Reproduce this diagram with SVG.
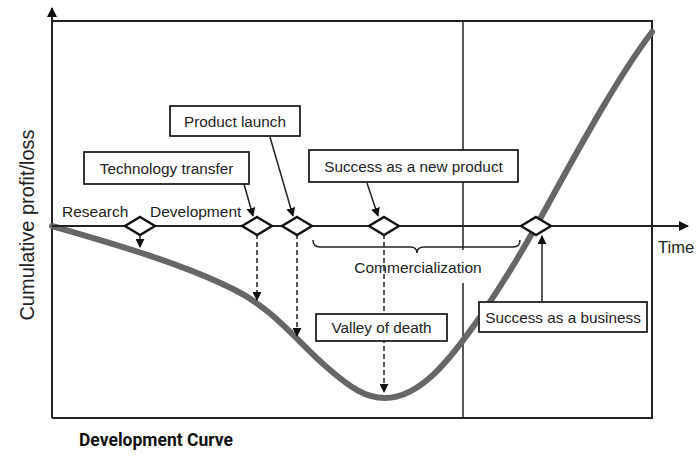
<svg xmlns="http://www.w3.org/2000/svg" width="698" height="466" viewBox="0 0 698 466">
<style>
.ln{stroke:#222;stroke-width:2;fill:none}
.thin{stroke:#222;stroke-width:1.5;fill:none}
.dash{stroke:#222;stroke-width:1.5;fill:none;stroke-dasharray:5,3}
.box{fill:#fff;stroke:#222;stroke-width:1.8}
.dia{fill:#fff;stroke:#111;stroke-width:2.4}
.t{font-family:"Liberation Sans",Arial,sans-serif;font-size:15.5px;fill:#222}
.bt{font-family:"Liberation Sans",Arial,sans-serif;font-size:15.3px;fill:#222;text-anchor:middle}
</style>
<defs>
<marker id="ah" viewBox="0 0 10 10" refX="9" refY="5" markerWidth="5" markerHeight="5" orient="auto" markerUnits="strokeWidth">
<path d="M0,0 L10,5 L0,10 z" fill="#111"/>
</marker>
<marker id="ah2" viewBox="0 0 10 10" refX="9" refY="5" markerWidth="6" markerHeight="6" orient="auto" markerUnits="strokeWidth">
<path d="M0,0 L10,5 L0,10 z" fill="#111"/>
</marker>
</defs>
<rect width="698" height="466" fill="#fff"/>
<g id="frame">
<path class="ln" d="M52,21 H652 V418 H52"/>
<path class="ln" d="M52,418 V8" marker-end="url(#ah)"/>
<path class="thin" d="M463,21 V250 M463,283 V418"/>
</g>
<g id="curve">
<path d="M52,226 C100,240 180,262 235,290 C275,310 300,345 330,370 C350,387 365,398 385,398 C420,398 450,360 480,317 C505,280 520,255 535,228 C570,165 615,80 652,32" fill="none" stroke="#666" stroke-width="6" stroke-linecap="round"/>
</g>
<g id="time-axis">
<path class="ln" d="M52,226 H688" marker-end="url(#ah)"/>
<text class="t" x="658" y="253" style="font-size:16.5px">Time</text>
</g>
<g id="connectors">
<path class="dash" d="M140,234 V247" marker-end="url(#ah2)"/>
<path class="dash" d="M257,234 V300" marker-end="url(#ah2)"/>
<path class="dash" d="M297,234 V336" marker-end="url(#ah2)"/>
<path class="dash" d="M384,234 V392" marker-end="url(#ah2)"/>
<path class="thin" d="M244,184 L253,216" marker-end="url(#ah2)"/>
<path class="thin" d="M270,137 L293,216" marker-end="url(#ah2)"/>
<path class="thin" d="M367,183 L378,216" marker-end="url(#ah2)"/>
<path class="thin" d="M542,301 V236" marker-end="url(#ah2)"/>
</g>
<g id="diamonds">
<path class="dia" d="M140,217 L155,226 L140,235 L125,226 z"/>
<path class="dia" d="M257,217 L272,226 L257,235 L242,226 z"/>
<path class="dia" d="M297,217 L312,226 L297,235 L282,226 z"/>
<path class="dia" d="M384,217 L399,226 L384,235 L369,226 z"/>
<path class="dia" d="M536,217 L551,226 L536,235 L521,226 z"/>
</g>
<g id="phase-labels">
<text class="t" x="62" y="217">Research</text>
<text class="t" x="150" y="217">Development</text>
</g>
<g id="commercialization">
<path class="thin" d="M313,240 Q313,247 320,247 H410 Q417,247 417,253 Q417,247 424,247 H513 Q520,247 520,240"/>
<text class="t" x="418" y="273" text-anchor="middle">Commercialization</text>
</g>
<g id="product-launch">
<rect class="box" x="170" y="106" width="130" height="30"/>
<text class="bt" x="235" y="126.5">Product launch</text>
</g>
<g id="technology-transfer">
<rect class="box" x="84" y="152" width="165" height="32"/>
<text class="bt" x="166.5" y="173.5">Technology transfer</text>
</g>
<g id="success-new-product">
<rect class="box" x="309" y="150" width="209" height="32"/>
<text class="bt" x="413.5" y="171.5">Success as a new product</text>
</g>
<g id="valley-of-death">
<rect class="box" x="316" y="314" width="131" height="27"/>
<text class="bt" x="381.5" y="333">Valley of death</text>
</g>
<g id="success-business">
<rect class="box" x="479" y="302" width="168" height="30"/>
<text class="bt" x="563" y="322.5">Success as a business</text>
</g>
<g id="labels">
<text class="t" transform="translate(34,225) rotate(-90)" text-anchor="middle" style="font-size:20px">Cumulative profit/loss</text>
<text x="79" y="446" style="font-family:Roboto,'Liberation Sans',sans-serif;font-weight:700;font-size:17.5px;fill:#111">Development Curve</text>
</g>
</svg>
